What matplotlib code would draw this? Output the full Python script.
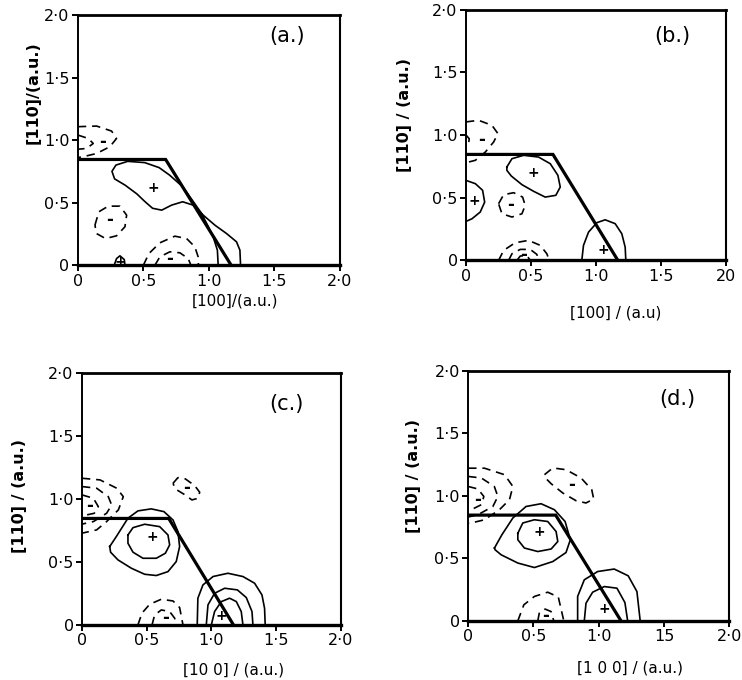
import matplotlib
matplotlib.use("Agg")
import matplotlib.pyplot as plt

plt.rcParams['font.family'] = ['DejaVu Sans']

# ---------------- data ----------------
tick_vals = [0, 0.5, 1.0, 1.5, 2.0]
ytick_labels = ['0', '0·5', '1·0', '1·5', '2·0']
xtick_labels_a = ['0', '0·5', '1·0', '1·5', '2·0']
xtick_labels_b = ['0', '0·5', '1·0', '1·5', '20']
xtick_labels_c = ['0', '0·5', '1·0', '1·5', '2·0']
xtick_labels_d = ['0', '0·5', '1·0', '15', '2·0']

panel_titles = ['(a.)', '(b.)', '(c.)', '(d.)']
xlabels = ['[100]/(a.u.)', '[100] / (a.u)', '[10 0] / (a.u.)', '[1 0 0] / (a.u.)']
ylabels = ['[110]/(a.u.)', '[110] / (a.u.)', '[110] / (a.u.)', '[110] / (a.u.)']

# zone boundary (thick line)
zone_x = [0.0, 0.67, 1.17]
zone_y = [0.845, 0.845, 0.0]

# ---- panel (a) contours ----
a_solid_1 = [(1.071, 0), (1.065, 0.12), (1.035, 0.22), (0.99, 0.32), (0.94, 0.42),
             (0.88, 0.51), (0.80, 0.627), (0.70, 0.72), (0.62, 0.78), (0.51, 0.82),
             (0.38, 0.83), (0.29, 0.80), (0.26, 0.75), (0.28, 0.69), (0.36, 0.64),
             (0.45, 0.57), (0.51, 0.51), (0.57, 0.455), (0.64, 0.44), (0.715, 0.48),
             (0.80, 0.507), (0.88, 0.48), (0.957, 0.40), (1.046, 0.32), (1.135, 0.253),
             (1.211, 0.187), (1.237, 0.12), (1.242, 0)]
a_solid_2 = [(0.277, 0), (0.295, 0.053), (0.321, 0.075), (0.354, 0.045), (0.359, 0)]
a_dash_1 = [(0, 1.107), (0.143, 1.112), (0.257, 1.072), (0.295, 1.013), (0.244, 0.947),
            (0.143, 0.893), (0.04, 0.867), (0, 0.861)]
a_dash_2 = [(0, 1.04), (0.079, 1.013), (0.117, 0.973), (0.066, 0.933), (0, 0.927)]
a_dash_3 = [(0.130, 0.32), (0.160, 0.427), (0.232, 0.472), (0.321, 0.472), (0.372, 0.40),
            (0.359, 0.307), (0.295, 0.235), (0.211, 0.213), (0.142, 0.253), (0.130, 0.32)]
a_dash_4 = [(0.50, 0), (0.542, 0.093), (0.626, 0.179), (0.740, 0.232), (0.830, 0.213),
            (0.893, 0.147), (0.918, 0.067), (0.92, 0)]
a_dash_5 = [(0.588, 0), (0.626, 0.067), (0.702, 0.107), (0.779, 0.099), (0.842, 0.053),
            (0.863, 0)]
a_plus = [(0.575, 0.615), (0.32, 0.028)]
a_minus = [(0.19, 0.985), (0.24, 0.36), (0.70, 0.053)]

# ---- panel (b) contours ----
b_solid_1 = [(0.315, 0.745), (0.354, 0.811), (0.444, 0.838), (0.559, 0.824), (0.649, 0.771),
             (0.708, 0.678), (0.726, 0.585), (0.692, 0.519), (0.610, 0.505), (0.521, 0.551),
             (0.431, 0.604), (0.349, 0.673), (0.315, 0.718), (0.315, 0.745)]
b_solid_2 = [(0, 0.638), (0.072, 0.612), (0.128, 0.559), (0.144, 0.465), (0.110, 0.386),
             (0.046, 0.332), (0, 0.311)]
b_solid_3 = [(0.892, 0), (0.905, 0.12), (0.944, 0.226), (1.008, 0.301), (1.072, 0.324),
             (1.149, 0.293), (1.2, 0.213), (1.226, 0.106), (1.231, 0)]
b_dash_1 = [(0, 1.104), (0.097, 1.117), (0.2, 1.077), (0.246, 1.011), (0.213, 0.944),
            (0.149, 0.864), (0.072, 0.798), (0, 0.779)]
b_dash_2 = [(0, 1.0), (0.025, 0.97), (0.02, 0.93), (0, 0.91)]
b_dash_3 = [(0.251, 0.452), (0.290, 0.524), (0.367, 0.540), (0.436, 0.505), (0.456, 0.439),
            (0.431, 0.372), (0.354, 0.346), (0.277, 0.372), (0.251, 0.452)]
b_dash_4 = [(0.251, 0), (0.290, 0.08), (0.379, 0.141), (0.482, 0.16), (0.572, 0.12),
            (0.623, 0.053), (0.641, 0)]
b_dash_5 = [(0.328, 0), (0.354, 0.053), (0.418, 0.088), (0.495, 0.088), (0.546, 0.048),
            (0.559, 0)]
b_dash_6 = [(0.392, 0), (0.418, 0.035), (0.469, 0.04), (0.495, 0)]
b_plus = [(0.52, 0.70), (0.067, 0.47), (1.06, 0.08)]
b_minus = [(0.123, 0.96), (0.34, 0.444), (0.444, 0.045)]

# ---- panel (c) contours ----
c_solid_1 = [(0.355, 0.714), (0.394, 0.772), (0.484, 0.799), (0.600, 0.780), (0.664, 0.714),
             (0.677, 0.635), (0.644, 0.569), (0.574, 0.529), (0.471, 0.529), (0.394, 0.577),
             (0.355, 0.648), (0.355, 0.714)]
c_solid_2 = [(0.214, 0.622), (0.265, 0.701), (0.355, 0.847), (0.432, 0.905), (0.535, 0.921),
             (0.633, 0.899), (0.703, 0.833), (0.741, 0.741), (0.754, 0.622), (0.728, 0.503),
             (0.664, 0.423), (0.574, 0.392), (0.484, 0.402), (0.381, 0.450), (0.278, 0.516),
             (0.221, 0.577), (0.214, 0.622)]
c_solid_3 = [(0.89, 0), (0.895, 0.212), (0.934, 0.317), (1.012, 0.384), (1.127, 0.410),
             (1.243, 0.384), (1.333, 0.331), (1.39, 0.238), (1.41, 0.132), (1.415, 0)]
c_solid_4 = [(0.960, 0), (0.973, 0.159), (1.024, 0.251), (1.102, 0.291), (1.2, 0.278),
             (1.269, 0.217), (1.313, 0.106), (1.320, 0)]
c_solid_5 = [(0.999, 0), (1.024, 0.106), (1.076, 0.185), (1.14, 0.212), (1.192, 0.185),
             (1.23, 0.106), (1.243, 0)]
c_dash_1 = [(0, 1.164), (0.139, 1.151), (0.268, 1.085), (0.319, 1.018), (0.281, 0.913),
            (0.19, 0.82), (0.113, 0.754), (0, 0.728)]
c_dash_2 = [(0, 1.098), (0.113, 1.085), (0.203, 1.018), (0.229, 0.952), (0.19, 0.886),
            (0.088, 0.82), (0, 0.8)]
c_dash_3 = [(0, 1.032), (0.088, 1.005), (0.126, 0.939), (0.095, 0.886), (0, 0.865)]
c_dash_4 = [(0.703, 1.124), (0.741, 1.169), (0.798, 1.159), (0.870, 1.106), (0.909, 1.053),
            (0.896, 1.005), (0.849, 0.992), (0.788, 1.037), (0.721, 1.079), (0.703, 1.124)]
c_dash_5 = [(0.432, 0), (0.463, 0.093), (0.523, 0.164), (0.613, 0.204), (0.703, 0.190),
            (0.754, 0.138), (0.780, 0)]
c_dash_6 = [(0.541, 0), (0.561, 0.079), (0.613, 0.119), (0.677, 0.106), (0.716, 0.053),
            (0.723, 0)]
c_plus = [(0.54, 0.70), (1.076, 0.068)]
c_minus = [(0.056, 0.94), (0.806, 1.085), (0.644, 0.058)]

# ---- panel (d) contours ----
d_solid_1 = [(0.38, 0.70), (0.418, 0.782), (0.507, 0.808), (0.609, 0.794), (0.673, 0.714),
             (0.686, 0.634), (0.635, 0.574), (0.533, 0.554), (0.43, 0.582), (0.38, 0.648),
             (0.38, 0.70)]
d_solid_2 = [(0.201, 0.582), (0.258, 0.688), (0.342, 0.822), (0.443, 0.914), (0.558, 0.936),
             (0.66, 0.888), (0.742, 0.794), (0.782, 0.648), (0.749, 0.546), (0.648, 0.474),
             (0.507, 0.426), (0.38, 0.462), (0.252, 0.528), (0.206, 0.568), (0.201, 0.582)]
d_solid_3 = [(0.838, 0), (0.838, 0.195), (0.889, 0.328), (0.991, 0.394), (1.118, 0.414),
             (1.225, 0.36), (1.292, 0.234), (1.317, 0)]
d_solid_4 = [(0.889, 0), (0.902, 0.141), (0.953, 0.229), (1.042, 0.274), (1.139, 0.261),
             (1.2, 0.146), (1.221, 0)]
d_dash_1 = [(0, 1.22), (0.125, 1.22), (0.278, 1.168), (0.342, 1.074), (0.316, 0.968),
            (0.239, 0.888), (0.125, 0.808), (0.023, 0.782), (0, 0.78)]
d_dash_2 = [(0, 1.154), (0.1, 1.142), (0.2, 1.074), (0.227, 0.994), (0.189, 0.914),
            (0.074, 0.848), (0, 0.83)]
d_dash_3 = [(0, 1.074), (0.074, 1.054), (0.12, 0.994), (0.1, 0.928), (0.023, 0.888),
            (0, 0.883)]
d_dash_4 = [(0.584, 1.168), (0.648, 1.222), (0.749, 1.208), (0.864, 1.142), (0.946, 1.048),
            (0.961, 0.974), (0.902, 0.942), (0.826, 0.96), (0.724, 1.022), (0.635, 1.096),
            (0.584, 1.15), (0.584, 1.168)]
d_dash_5 = [(0.38, 0), (0.426, 0.128), (0.507, 0.195), (0.609, 0.229), (0.69, 0.19),
            (0.732, 0)]
d_dash_6 = [(0.533, 0), (0.545, 0.066), (0.589, 0.094), (0.635, 0.074), (0.655, 0)]
d_plus = [(0.545, 0.714), (1.042, 0.094)]
d_minus = [(0.069, 0.968), (0.788, 1.088), (0.589, 0.035)]

panels = [
    dict(rect=[0.105, 0.610, 0.353, 0.368], xt=xtick_labels_a,
         solid=[a_solid_1, a_solid_2], dash=[a_dash_1, a_dash_2, a_dash_3, a_dash_4, a_dash_5],
         plus=a_plus, minus=a_minus, title_xy=(1.60, 1.83),
         xl_pos=(0.60, -0.145), yl_pos=(-0.172, 0.69)),
    dict(rect=[0.628, 0.617, 0.350, 0.369], xt=xtick_labels_b,
         solid=[b_solid_1, b_solid_2, b_solid_3],
         dash=[b_dash_1, b_dash_2, b_dash_3, b_dash_4, b_dash_5, b_dash_6],
         plus=b_plus, minus=b_minus, title_xy=(1.59, 1.79),
         xl_pos=(0.577, -0.211), yl_pos=(-0.238, 0.58)),
    dict(rect=[0.1105, 0.081, 0.349, 0.3706], xt=xtick_labels_c,
         solid=[c_solid_1, c_solid_2, c_solid_3, c_solid_4, c_solid_5],
         dash=[c_dash_1, c_dash_2, c_dash_3, c_dash_4, c_dash_5, c_dash_6],
         plus=c_plus, minus=c_minus, title_xy=(1.58, 1.75),
         xl_pos=(0.587, -0.179), yl_pos=(-0.24, 0.51)),
    dict(rect=[0.631, 0.087, 0.352, 0.368], xt=xtick_labels_d,
         solid=[d_solid_1, d_solid_2, d_solid_3, d_solid_4],
         dash=[d_dash_1, d_dash_2, d_dash_3, d_dash_4, d_dash_5, d_dash_6],
         plus=d_plus, minus=d_minus, title_xy=(1.60, 1.77),
         xl_pos=(0.62, -0.188), yl_pos=(-0.21, 0.58)),
]

fig = plt.figure(figsize=(7.42, 6.8), dpi=100)

for i, p in enumerate(panels):
    ax = fig.add_axes(p['rect'])
    ax.set_xlim(0, 2)
    ax.set_ylim(0, 2)
    ax.set_xticks(tick_vals)
    ax.set_xticklabels(p['xt'])
    ax.set_yticks(tick_vals)
    ax.set_yticklabels(ytick_labels)
    ax.tick_params(direction='out', length=4, width=1.4, labelsize=11.5, pad=2,
                   colors='black')
    ax.spines['bottom'].set_linewidth(2.4)
    ax.spines['top'].set_linewidth(2.0)
    ax.spines['left'].set_linewidth(1.4)
    ax.spines['right'].set_linewidth(1.5)

    for seg in p['solid']:
        ax.plot([q[0] for q in seg], [q[1] for q in seg], color='black', lw=1.2,
                solid_joinstyle='round', clip_on=False)
    for seg in p['dash']:
        ax.plot([q[0] for q in seg], [q[1] for q in seg], color='black', lw=1.2,
                linestyle=(0, (5, 3.5)), clip_on=False)
    ax.plot(zone_x, zone_y, color='black', lw=2.3, solid_joinstyle='miter')

    for (x, y) in p['plus']:
        ax.text(x, y, '+', ha='center', va='center', fontsize=10, fontweight='bold')
    for (x, y) in p['minus']:
        ax.text(x, y, '-', ha='center', va='center', fontsize=12, fontweight='bold')

    ax.text(p['title_xy'][0], p['title_xy'][1], panel_titles[i], ha='center', va='center',
            fontsize=15)
    ax.text(p['xl_pos'][0], p['xl_pos'][1], xlabels[i], transform=ax.transAxes,
            ha='center', va='center', fontsize=11)
    ax.text(p['yl_pos'][0], p['yl_pos'][1], ylabels[i], transform=ax.transAxes,
            ha='center', va='center', rotation=90, fontsize=11.5, fontweight='bold')

fig.savefig('out.png', dpi=100)
